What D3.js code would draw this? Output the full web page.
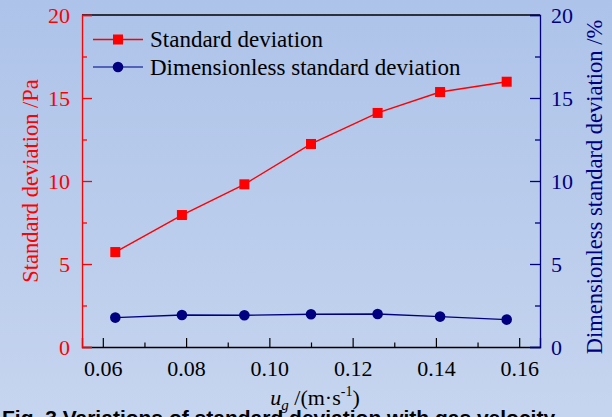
<!DOCTYPE html>
<html><head><meta charset="utf-8">
<script src="https://cdn.jsdelivr.net/npm/d3@7"></script>
<style>
html,body{margin:0;padding:0;}
body{width:612px;height:417px;overflow:hidden;background:linear-gradient(to bottom,#adc3e9,#c6d5ef);}
svg{display:block;}
</style></head><body>
<svg id="c" width="612" height="417"></svg>
<script>
const ug = [0.063, 0.079, 0.094, 0.110, 0.126, 0.141, 0.157];
const stdDev = [5.72, 7.95, 9.80, 12.23, 14.10, 15.36, 15.98];
const dimStdDev = [1.77, 1.93, 1.91, 1.97, 1.99, 1.83, 1.65];
const xTicks = [0.06, 0.08, 0.10, 0.12, 0.14, 0.16];
const xMinor = [0.07, 0.09, 0.11, 0.13, 0.15];
const yTicks = [0, 5, 10, 15, 20];
const yMinor = [2.5, 7.5, 12.5, 17.5];
const legendLabels = ["Standard deviation", "Dimensionless standard deviation"];

const L = 82, R = 540, T = 15, B = 347;
const RED = "#ff0000", NAVY = "#000080";
const svg = d3.select("#c");
const font = "'Liberation Serif','Times New Roman',serif";

const x = d3.scaleLinear().domain([0.055, 0.165]).range([L, R]);
const yL = d3.scaleLinear().domain([0, 20]).range([B, T]);
const yR = d3.scaleLinear().domain([0, 20]).range([B, T]);

// top frame
svg.append("line").attr("x1", L).attr("x2", R).attr("y1", T).attr("y2", T)
  .attr("stroke", "#000").attr("stroke-width", 1.3);

// bottom axis
const gx = svg.append("g").attr("transform", `translate(0,${B})`)
  .call(d3.axisBottom(x).tickValues(xTicks).tickSize(-9).tickPadding(13)
    .tickFormat(d3.format(".2f")));
gx.select(".domain").attr("stroke", "#000").attr("stroke-width", 1.3);
gx.selectAll(".tick line").attr("stroke", "#000").attr("stroke-width", 1.2);
gx.selectAll(".tick text").attr("font-family", font).attr("font-size", 22).attr("fill", "#000");
svg.append("g").attr("transform", `translate(0,${B})`)
  .call(d3.axisBottom(x).tickValues(xMinor).tickSize(-4.5).tickFormat(""))
  .call(g => g.select(".domain").remove())
  .selectAll(".tick line").attr("stroke", "#000").attr("stroke-width", 1.2);

// left axis
const gl = svg.append("g").attr("transform", `translate(${L},0)`)
  .call(d3.axisLeft(yL).tickValues(yTicks).tickSize(-10).tickPadding(12));
gl.select(".domain").attr("stroke", RED).attr("stroke-width", 1.3);
gl.selectAll(".tick line").attr("stroke", RED).attr("stroke-width", 1.3);
gl.selectAll(".tick text").attr("font-family", font).attr("font-size", 22).attr("fill", RED);
svg.append("g").attr("transform", `translate(${L},0)`)
  .call(d3.axisLeft(yL).tickValues(yMinor).tickSize(-5).tickFormat(""))
  .call(g => g.select(".domain").remove())
  .selectAll(".tick line").attr("stroke", RED).attr("stroke-width", 1.3);

// right axis
const gr = svg.append("g").attr("transform", `translate(${R},0)`)
  .call(d3.axisRight(yR).tickValues(yTicks).tickSize(-10).tickPadding(11));
gr.select(".domain").attr("stroke", NAVY).attr("stroke-width", 1.3);
gr.selectAll(".tick line").attr("stroke", NAVY).attr("stroke-width", 1.3);
gr.selectAll(".tick text").attr("font-family", font).attr("font-size", 22).attr("fill", NAVY);
svg.append("g").attr("transform", `translate(${R},0)`)
  .call(d3.axisRight(yR).tickValues(yMinor).tickSize(-5).tickFormat(""))
  .call(g => g.select(".domain").remove())
  .selectAll(".tick line").attr("stroke", NAVY).attr("stroke-width", 1.3);

// axis titles
svg.append("text").attr("transform", `translate(38,${(T + B) / 2}) rotate(-90)`)
  .attr("text-anchor", "middle").attr("font-family", font).attr("font-size", 22.5)
  .attr("fill", RED).text("Standard deviation /Pa");
svg.append("text").attr("transform", `translate(602,${(T + B) / 2 + 6}) rotate(-90)`)
  .attr("text-anchor", "middle").attr("font-family", font).attr("font-size", 22.5)
  .attr("fill", NAVY).text("Dimensionless standard deviation /%");
const xt = svg.append("text").attr("x", 315).attr("y", 405).attr("text-anchor", "middle")
  .attr("font-family", font).attr("font-size", 22).attr("fill", "#000");
xt.append("tspan").attr("font-style", "italic").text("u");
xt.append("tspan").attr("font-style", "italic").attr("font-size", 15).attr("dy", 5).text("g");
xt.append("tspan").attr("dy", -5).text(" /(m·s");
xt.append("tspan").attr("font-size", 14).attr("dy", -9).text("-1");
xt.append("tspan").attr("dy", 9).text(")");

// series
const lineR = d3.line().x((d, i) => x(ug[i])).y(d => yL(d));
const lineB = d3.line().x((d, i) => x(ug[i])).y(d => yR(d));
svg.append("path").datum(stdDev).attr("d", lineR).attr("fill", "none")
  .attr("stroke", RED).attr("stroke-width", 1.4);
svg.append("path").datum(dimStdDev).attr("d", lineB).attr("fill", "none")
  .attr("stroke", NAVY).attr("stroke-width", 1.4);
svg.selectAll("rect.m").data(stdDev).join("rect").attr("class", "m")
  .attr("x", (d, i) => x(ug[i]) - 5).attr("y", d => yL(d) - 5)
  .attr("width", 10).attr("height", 10).attr("fill", RED);
svg.selectAll("circle.m").data(dimStdDev).join("circle").attr("class", "m")
  .attr("cx", (d, i) => x(ug[i])).attr("cy", d => yR(d)).attr("r", 5.3).attr("fill", NAVY);

// legend
const lg = svg.append("g");
lg.append("line").attr("x1", 93).attr("x2", 143).attr("y1", 39.5).attr("y2", 39.5)
  .attr("stroke", RED).attr("stroke-width", 1.4);
lg.append("rect").attr("x", 113).attr("y", 34.5).attr("width", 10).attr("height", 10).attr("fill", RED);
lg.append("line").attr("x1", 93).attr("x2", 143).attr("y1", 67).attr("y2", 67)
  .attr("stroke", "#3040a8").attr("stroke-width", 1.4);
lg.append("circle").attr("cx", 118).attr("cy", 67).attr("r", 5.3).attr("fill", NAVY);
lg.append("text").attr("x", 150).attr("y", 47).attr("font-family", font).attr("font-size", 23)
  .attr("fill", "#000").text(legendLabels[0]);
lg.append("text").attr("x", 150).attr("y", 75).attr("font-family", font).attr("font-size", 23)
  .attr("fill", "#000").text(legendLabels[1]);

// clipped caption
svg.append("text").attr("x", 2).attr("y", 425).attr("font-family", "'Liberation Sans',Arial,sans-serif")
  .attr("font-weight", "bold").attr("font-size", 21).attr("fill", "#000")
  .text("Fig. 3 Variations of standard deviation with gas velocity");
</script>
</body></html>
